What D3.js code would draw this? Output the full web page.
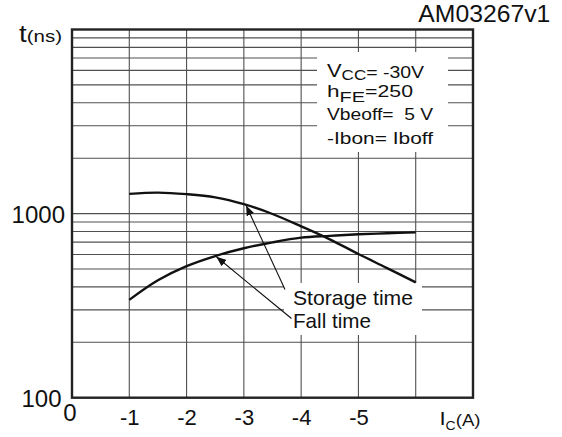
<!DOCTYPE html>
<html>
<head>
<meta charset="utf-8">
<script src="https://cdn.jsdelivr.net/npm/d3@7"></script>
<style>
  html, body { margin: 0; padding: 0; background: #fff; }
  svg { display: block; font-family: "Liberation Sans", Arial, Helvetica, sans-serif; }
</style>
</head>
<body>
<svg id="chart" width="562" height="437"></svg>
<script>
// Switching times vs collector current
const icValues = [-1, -1.5, -2, -2.5, -3, -3.5, -4, -4.5, -5, -5.5, -6];
const storageTime = [1280, 1300, 1275, 1225, 1125, 995, 853, 725, 603, 506, 423];
const fallTime = [340, 434, 518, 588, 648, 698, 740, 757, 772, 782, 791];
const xTickLabels = [-1, -2, -3, -4, -5];
const xGridValues = [-1, -2, -3, -4, -5, -6];
const yTickLabels = [100, 1000];

const svg = d3.select("#chart");
const L = 72, R = 473, T = 29.5, B = 397.7;

const x = d3.scaleLinear().domain([0, -7]).range([L, R]);
const y = d3.scaleLog().domain([100, 10000]).range([B, T]);

const ink = "#111";
const gridColor = "#505050";
const plainNumber = d => String(d);

// grid
const grid = svg.append("g");
grid.selectAll("line.h")
  .data(y.ticks().filter(v => v > 100 && v < 10000))
  .join("line")
  .attr("x1", L).attr("x2", R)
  .attr("y1", d => y(d)).attr("y2", d => y(d))
  .attr("stroke", gridColor).attr("stroke-width", 1.1);
grid.selectAll("line.v")
  .data(xGridValues)
  .join("line")
  .attr("x1", d => x(d)).attr("x2", d => x(d))
  .attr("y1", T).attr("y2", B)
  .attr("stroke", gridColor).attr("stroke-width", 1.1);

// white panels behind the annotation texts
svg.append("rect").attr("x", 317).attr("y", 52).attr("width", 131).attr("height", 100).attr("fill", "#fff");
svg.append("rect").attr("x", 284).attr("y", 283).attr("width", 138).attr("height", 52).attr("fill", "#fff");

// frame
svg.append("rect")
  .attr("x", L).attr("y", T).attr("width", R - L).attr("height", B - T)
  .attr("fill", "none").attr("stroke", "#222").attr("stroke-width", 2.4);

// curves
const line = d3.line()
  .x(d => x(d[0])).y(d => y(d[1]))
  .curve(d3.curveCatmullRom.alpha(0.5));
const storagePts = icValues.map((v, i) => [v, storageTime[i]]);
const fallPts = icValues.map((v, i) => [v, fallTime[i]]);
svg.append("path").datum(storagePts).attr("d", line)
  .attr("fill", "none").attr("stroke", ink).attr("stroke-width", 2.4);
svg.append("path").datum(fallPts).attr("d", line)
  .attr("fill", "none").attr("stroke", ink).attr("stroke-width", 2.4);

// arrow markers
svg.append("defs").append("marker")
  .attr("id", "head")
  .attr("markerUnits", "userSpaceOnUse")
  .attr("viewBox", "0 0 10 8")
  .attr("refX", 10).attr("refY", 4)
  .attr("markerWidth", 10).attr("markerHeight", 8)
  .attr("orient", "auto")
  .append("path").attr("d", "M0,0 L10,4 L0,8 Z").attr("fill", ink);

svg.append("line")
  .attr("x1", 285).attr("y1", 289.5)
  .attr("x2", x(-3.04)).attr("y2", y(1120) + 1)
  .attr("stroke", ink).attr("stroke-width", 1.1)
  .attr("marker-end", "url(#head)");
svg.append("line")
  .attr("x1", 291.5).attr("y1", 318.5)
  .attr("x2", x(-2.52)).attr("y2", y(590) + 1)
  .attr("stroke", ink).attr("stroke-width", 1.1)
  .attr("marker-end", "url(#head)");

// x axis labels
const xAxis = svg.append("g")
  .attr("transform", `translate(0,${B})`)
  .call(d3.axisBottom(x).tickValues(xTickLabels).tickSize(0).tickFormat(plainNumber));
xAxis.select(".domain").remove();
xAxis.selectAll("text")
  .attr("y", 27.3).attr("dy", 0)
  .attr("font-size", 22).attr("fill", ink)
  .attr("font-family", "Liberation Sans, Arial, sans-serif");

svg.append("text").attr("x", x(0) - 2).attr("y", 420.7)
  .attr("text-anchor", "middle").attr("font-size", 24).attr("fill", ink).text("0");

// y axis labels
const yAxis = svg.append("g")
  .attr("transform", `translate(${L},0)`)
  .call(d3.axisLeft(y).tickValues(yTickLabels).tickSize(0).tickFormat(plainNumber));
yAxis.select(".domain").remove();
yAxis.selectAll("text")
  .attr("x", d => d === 100 ? -10.5 : -7)
  .attr("dy", 9)
  .attr("font-size", 24).attr("fill", ink)
  .attr("font-family", "Liberation Sans, Arial, sans-serif");

// axis titles
const tTitle = svg.append("text").attr("x", 19).attr("y", 41.7).attr("fill", ink)
  .attr("textLength", 43).attr("lengthAdjust", "spacingAndGlyphs");
tTitle.append("tspan").attr("font-size", 23).text("t");
tTitle.append("tspan").attr("font-size", 17).text("(ns)");

const iTitle = svg.append("text").attr("x", 439.5).attr("y", 425).attr("fill", ink)
  .attr("textLength", 41).attr("lengthAdjust", "spacingAndGlyphs");
iTitle.append("tspan").attr("font-size", 19).text("I");
iTitle.append("tspan").attr("font-size", 12).attr("dy", 5).text("C");
iTitle.append("tspan").attr("font-size", 16).attr("dy", -4).text("(A)");

svg.append("text").attr("x", 418.3).attr("y", 21.7).attr("fill", ink)
  .attr("font-size", 23).attr("textLength", 132).attr("lengthAdjust", "spacingAndGlyphs")
  .text("AM03267v1");

// test conditions
const c1 = svg.append("text").attr("x", 327).attr("y", 78.3).attr("fill", ink)
  .attr("textLength", 97).attr("lengthAdjust", "spacingAndGlyphs");
c1.append("tspan").attr("font-size", 18).attr("dy", -1).text("V");
c1.append("tspan").attr("font-size", 14).attr("dy", 3).text("CC");
c1.append("tspan").attr("font-size", 16).attr("dy", -2).text("= -30V");

const c2 = svg.append("text").attr("x", 327).attr("y", 96.7).attr("fill", ink)
  .attr("textLength", 86).attr("lengthAdjust", "spacingAndGlyphs");
c2.append("tspan").attr("font-size", 17).text("h");
c2.append("tspan").attr("font-size", 15).attr("dy", 5).text("FE");
c2.append("tspan").attr("font-size", 16).attr("dy", -5).text("=250");

svg.append("text").attr("x", 327).attr("y", 120).attr("fill", ink)
  .attr("font-size", 16).attr("textLength", 106).attr("lengthAdjust", "spacingAndGlyphs")
  .text("Vbeoff=  5 V").style("white-space", "pre");

svg.append("text").attr("x", 327).attr("y", 144.3).attr("fill", ink)
  .attr("font-size", 17).attr("textLength", 106).attr("lengthAdjust", "spacingAndGlyphs")
  .text("-Ibon= Iboff");

// curve labels
svg.append("text").attr("x", 293).attr("y", 305).attr("fill", ink)
  .attr("font-size", 21).attr("textLength", 120).attr("lengthAdjust", "spacingAndGlyphs")
  .text("Storage time");
svg.append("text").attr("x", 293).attr("y", 328.3).attr("fill", ink)
  .attr("font-size", 21).attr("textLength", 78).attr("lengthAdjust", "spacingAndGlyphs")
  .text("Fall time");
</script>
</body>
</html>
